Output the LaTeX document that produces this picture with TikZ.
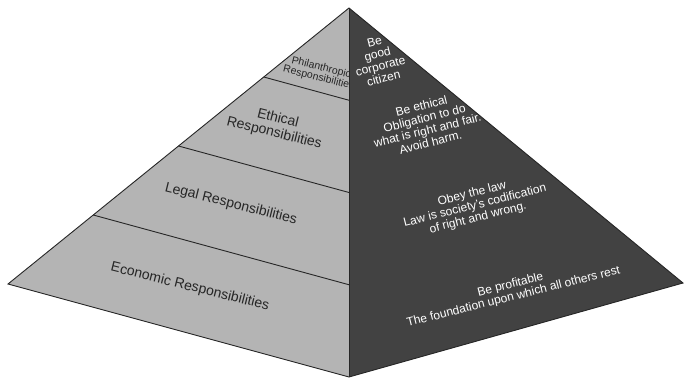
\documentclass[tikz,border=0pt]{standalone}
\usepackage{fontspec}
\setmainfont{Liberation Sans}
\usetikzlibrary{calc}

\definecolor{lightface}{RGB}{180,180,180}
\definecolor{darkface}{RGB}{66,66,66}

\begin{document}
\begin{tikzpicture}[
    x=1pt, y=-1pt,
    edge/.style={draw=black!85, line width=0.9pt},
    layerline/.style={draw=black!85, line width=0.9pt},
    leftlabel/.style={font=\fontsize{14}{15}\selectfont, text=black!85, align=center, rotate=-14, inner sep=0pt},
    rightlabel/.style={font=\fontsize{12}{12.5}\selectfont, text=white, align=center, rotate=14, inner sep=0pt}
]
    \useasboundingbox (0,0) rectangle (691,382);

    % corners of the pyramid
    \coordinate (apex) at (349,8);
    \coordinate (left) at (8,284);
    \coordinate (front) at (349,377);
    \coordinate (right) at (683,283);

    % two faces
    \fill[lightface] (apex) -- (left) -- (front) -- cycle;
    \fill[darkface] (apex) -- (front) -- (right) -- cycle;

    % layer lines on the light face
    \foreach \t in {0.25,0.5,0.75}
        \draw[layerline] ($(apex)!\t!(left)$) -- ($(apex)!\t!(front)$);

    % outline
    \draw[edge] (apex) -- (left) -- (front) -- (right) -- cycle;
    \draw[edge] (apex) -- (front);

    % labels on the light face
    \begin{scope}
        \clip (apex) -- (left) -- (front) -- cycle;
        \node[leftlabel, font=\fontsize{10.5}{10.5}\selectfont] (phil) at (320,73) {Philanthropic\\Responsibilities};
    \end{scope}
    \node[leftlabel] (ethical) at (276,126) {Ethical\\Responsibilities};
    \node[leftlabel] (legal) at (231,204) {Legal Responsibilities};
    \node[leftlabel] (economic) at (190,287) {Economic Responsibilities};

    % labels on the dark face
    \node[rightlabel] (citizen) at (379,60) {Be\\good\\corporate\\citizen};
    \node[rightlabel] (fair) at (426,124) {Be ethical\\Obligation to do\\what is right and fair.\\Avoid harm.};
    \node[rightlabel] (law) at (475,206) {Obey the law\\Law is society's codification\\of right and wrong.};
    \node[rightlabel] (profit) at (512,291) {Be profitable\\The foundation upon which all others rest};
\end{tikzpicture}
\end{document}
